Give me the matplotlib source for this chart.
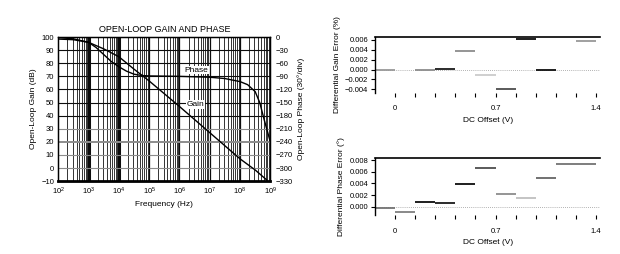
import numpy as np
import matplotlib.pyplot as plt
from matplotlib.ticker import FixedLocator, NullFormatter

plt.rcParams['font.family'] = ['Liberation Sans', 'DejaVu Sans']

# open-loop gain and phase
freq_gain = [1e2, 10**2.5, 1e3, 10**3.25, 10**3.5, 10**3.75, 1e4, 10**4.5, 1e5,
             1e6, 1e7, 1e8, 10**8.5, 10**8.9]
gain_db = [98.5, 98, 96, 93.5, 91, 88, 85, 75.5, 66.5, 47, 27, 7, -1.5, -9.5]

freq_phase = [1e2, 10**2.5, 1e3, 10**3.25, 10**3.5, 10**3.75, 1e4, 10**4.25, 10**4.5,
              10**4.75, 1e5, 1e6, 1e7, 10**7.5, 1e8, 10**8.25, 10**8.5, 10**8.65,
              10**8.8, 10**8.9, 1e9]
phase_deg = [-1, -4, -12, -24, -40, -56, -68, -78, -85, -88, -89, -90, -92, -95,
             -102, -109, -125, -150, -190, -215, -240]

# differential gain / phase error steps (DC offset bins)
dg_lo = [-0.14, 0.14, 0.28, 0.42, 0.56, 0.70, 0.84, 0.98, 1.26]
dg_hi = [0.00, 0.28, 0.42, 0.56, 0.70, 0.84, 0.98, 1.12, 1.40]
dg_val = [0.0000, 0.0000, 0.0002, 0.0038, -0.0012, -0.0039, 0.0061, 0.0000, 0.0058]
dg_shade = ['0.6', '0.55', '0.1', '0.55', '0.8', '0.3', '0.05', '0.05', '0.6']

dp_lo = [-0.14, 0.00, 0.14, 0.28, 0.42, 0.56, 0.70, 0.84, 0.98, 1.12]
dp_hi = [0.00, 0.14, 0.28, 0.42, 0.56, 0.70, 0.84, 0.98, 1.12, 1.40]
dp_val = [-0.0001, -0.0008, 0.0009, 0.00075, 0.0039, 0.0066, 0.0022, 0.00145, 0.0050, 0.0073]
dp_shade = ['0.45', '0.5', '0.05', '0.1', '0.05', '0.3', '0.55', '0.75', '0.4', '0.45']

fig = plt.figure(figsize=(6.2, 2.54), dpi=100)

# ---- left: gain and phase
ax = fig.add_axes([0.094, 0.287, 0.342, 0.567])
ax.set_xscale('log')
ax.set_xlim(1e2, 1e9)
ax.set_ylim(-10, 100)
ax.set_yticks(np.arange(-10, 101, 10))
ax.set_yticklabels(['\u221210'] + [str(v) for v in range(0, 101, 10)])
ax.xaxis.set_minor_formatter(NullFormatter())
for d in range(2, 9):
    for m in range(2, 10):
        ax.axvline(m * 10**d, color='0.2', lw=0.7, zorder=1)
for d in range(3, 9):
    ax.axvline(10**d, color='0.05', lw=2.2 if d in (3, 4) else 0.9, zorder=1)
for v in range(0, 100, 10):
    ax.axhline(v, color='0.55' if v <= 30 else '0.05',
               lw=1.4 if v == 20 else 0.8, zorder=1)
ax.plot(freq_gain, gain_db, color='black', lw=1.0, zorder=3)
ax.tick_params(labelsize=5.5, length=0, pad=3)
ax.tick_params(axis='x', which='minor', length=0)
for s in ax.spines.values():
    s.set_linewidth(1.0)
ax.spines['bottom'].set_linewidth(2.0)
ax.set_xlabel('Frequency (Hz)', fontsize=6, labelpad=3)
ax.set_ylabel('Open-Loop Gain (dB)', fontsize=6, labelpad=3)
ax.set_title('OPEN-LOOP GAIN AND PHASE', fontsize=6.5, pad=4)
ax.text(10**6.16, 74.8, 'Phase', fontsize=6, va='center', zorder=4,
        bbox=dict(facecolor='white', edgecolor='none', pad=0.5))
ax.text(10**6.23, 48.6, 'Gain', fontsize=6, va='center', zorder=4,
        bbox=dict(facecolor='white', edgecolor='none', pad=0.5))

axp = ax.twinx()
axp.set_ylim(-330, 0)
axp.set_yticks(np.arange(-330, 1, 30))
axp.set_yticklabels(['\u2212%d' % -v if v < 0 else '0' for v in range(-330, 1, 30)])
axp.plot(freq_phase, phase_deg, color='black', lw=1.0, zorder=3)
axp.tick_params(labelsize=5.5, length=0, pad=4)
axp.set_ylabel('Open-Loop Phase (30\u00b0/div)', fontsize=6, labelpad=3)


def step_axes(rect, lo, hi, val, shade, ylim, yticks, ylabel):
    a = fig.add_axes(rect)
    a.set_xlim(-0.14, 1.43)
    a.set_ylim(*ylim)
    a.axhline(0, color='0.6', lw=0.6, ls=(0, (1, 1.5)), zorder=1)
    for x0, x1, v, c in zip(lo, hi, val, shade):
        a.hlines(v, x0, x1, color=c, lw=1.3, zorder=2)
    a.set_yticks(yticks)
    a.set_yticklabels(['%.3f' % t if t >= 0 else '\u2212%.3f' % -t for t in yticks])
    ticks = np.round(np.arange(0, 1.41, 0.14), 2)
    a.set_xticks(ticks)
    a.set_xticklabels(['0' if t == 0 else ('0.7' if t == 0.7 else ('1.4' if t == 1.4 else ''))
                       for t in ticks])
    a.spines['right'].set_visible(False)
    a.spines['bottom'].set_visible(False)
    a.spines['top'].set_linewidth(1.2)
    a.spines['left'].set_linewidth(1.0)
    a.tick_params(labelsize=5.5, length=3, width=0.8, pad=2)
    a.tick_params(axis='x', length=3, pad=6)
    a.set_xlabel('DC Offset (V)', fontsize=6, labelpad=3)
    a.set_ylabel(ylabel, fontsize=6, labelpad=3)
    return a


step_axes([0.605, 0.634, 0.363, 0.222], dg_lo, dg_hi, dg_val, dg_shade,
          (-0.0047, 0.0066), [-0.004, -0.002, 0.0, 0.002, 0.004, 0.006],
          'Differential Gain Error (%)')
step_axes([0.605, 0.153, 0.363, 0.224], dp_lo, dp_hi, dp_val, dp_shade,
          (-0.0014, 0.0083), [0.0, 0.002, 0.004, 0.006, 0.008],
          'Differential Phase Error (\u00b0)')

fig.savefig('out.png', dpi=100)
